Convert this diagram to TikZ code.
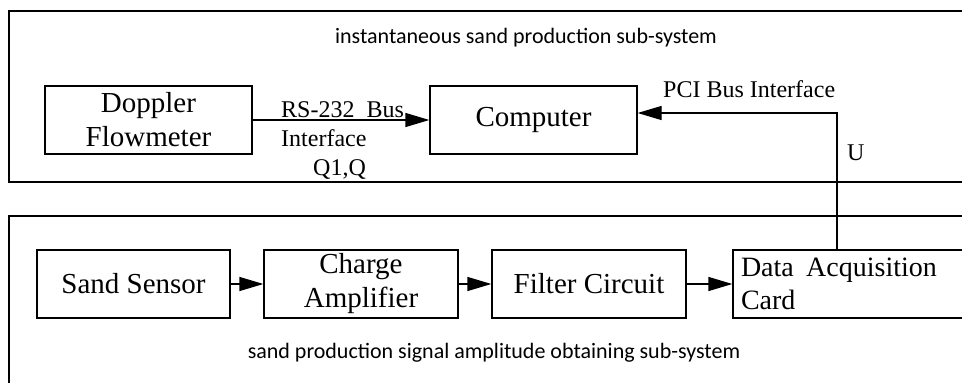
\documentclass[tikz,border=0pt]{standalone}
\usepackage{fontspec}
\setmainfont{Liberation Serif}
\newfontfamily\labfont{Carlito}
\usetikzlibrary{arrows.meta}
\tikzset{
  blk/.style={draw, line width=1.3pt, inner sep=0pt, font=\fontsize{29}{34}\selectfont, align=center},
  outer/.style={draw, line width=1.3pt},
  conn/.style={line width=1.3pt, -{Triangle[length=24pt,width=14pt]}},
  lbl/.style={inner sep=0pt, font=\fontsize{24}{28}\selectfont},
  sub/.style={inner sep=0pt, font=\labfont\fontsize{22}{26}\selectfont}
}
\begin{document}
\begin{tikzpicture}[x=1pt,y=-1pt]
\useasboundingbox (0,0) rectangle (962,383);
\clip (0,0) rectangle (962,383);
% outer frames
\draw[outer] (9,11) rectangle (975,182);
\draw[outer] (9,216) rectangle (975,400);
% sub-system labels
\node[sub, anchor=base] (t1) at (526,43) {instantaneous sand production sub-system};
\node[sub, anchor=base] (t2) at (494,358) {sand production signal amplitude obtaining sub-system};
% top blocks
\node[blk, minimum width=207pt, minimum height=68pt] (dop) at (148.5,120) {Doppler\\Flowmeter};
\node[blk, minimum width=207pt, minimum height=68pt] (comp) at (533.5,120) {Computer};
% bottom blocks
\node[blk, minimum width=193pt, minimum height=68pt] (ss) at (133.5,284) {Sand Sensor};
\node[blk, minimum width=194pt, minimum height=68pt] (ca) at (361,284) {Charge\\Amplifier};
\node[blk, minimum width=194pt, minimum height=68pt] (fc) at (589,284) {Filter Circuit};
\node[blk, font=\fontsize{28}{33}\selectfont, minimum width=240pt, minimum height=68pt, text width=224pt, align=left] (dac) at (853,284) {Data\hspace{3pt} Acquisition\\Card};
% connectors
\draw[conn] (dop.east) -- (comp.west);
\draw[conn] (ss.east) -- (ca.west);
\draw[conn] (ca.east) -- (fc.west);
\draw[conn] (fc.east) -- (dac.west);
\coordinate (bend) at (837,113);
\draw[conn] (dac.north -| bend) -- (bend) -- (comp.east |- bend);
% labels
\node[lbl, anchor=base west] (l1) at (281,117) {RS-232\ \ Bus};
\node[lbl, anchor=base west] (l2) at (281,146) {Interface};
\node[lbl, anchor=base west] (l3) at (313,175) {Q1,Q};
\node[lbl, anchor=base west] (l4) at (663,97) {PCI Bus Interface};
\node[lbl, anchor=base west] (l5) at (847,160) {U};
\end{tikzpicture}
\end{document}
